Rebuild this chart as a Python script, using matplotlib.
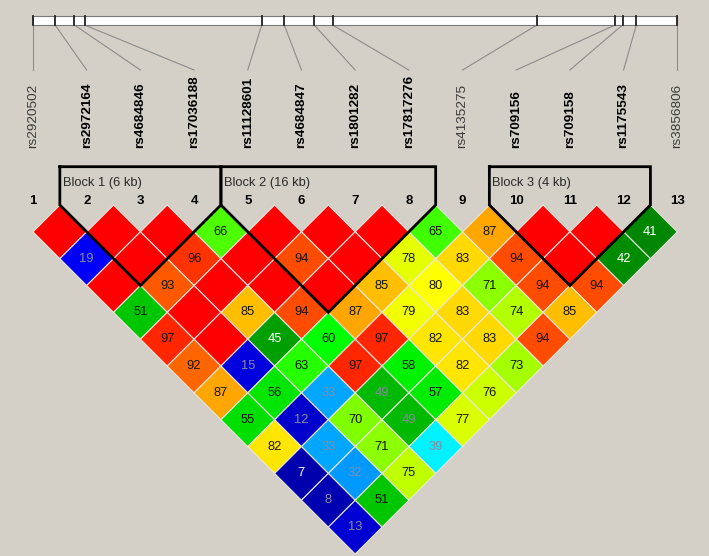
import matplotlib
matplotlib.use('Agg')
import matplotlib.pyplot as plt
from matplotlib.patches import Polygon, Rectangle
import numpy as np

# data
snps = ['rs2920502', 'rs2972164', 'rs4684846', 'rs17036188', 'rs11128601',
        'rs4684847', 'rs1801282', 'rs17817276', 'rs4135275', 'rs709156',
        'rs709158', 'rs1175543', 'rs3856806']
positions_kb = [0, 4.8, 9.0, 11.2, 49.7, 54.6, 61.1, 65.1, 109.5, 126.5, 128.1, 131.1, 140.0]

block_starts = [2, 5, 10]
block_ends   = [4, 8, 12]
block_labels = ['Block 1 (6 kb)', 'Block 2 (16 kb)', 'Block 3 (4 kb)']

# D' (x100) by marker distance: row k holds pairs (i, i+k); 100 = no number shown
dprime_rows = [
    [100, 100, 100, 66, 100, 100, 100, 65, 87, 100, 100, 41],
    [19, 100, 96, 100, 94, 100, 78, 83, 94, 100, 42],
    [100, 93, 100, 100, 100, 85, 80, 71, 94, 94],
    [51, 100, 85, 94, 87, 79, 83, 74, 85],
    [97, 100, 45, 60, 97, 82, 83, 94],
    [92, 15, 63, 97, 58, 82, 73],
    [87, 56, 33, 49, 57, 76],
    [55, 12, 70, 49, 77],
    [82, 33, 71, 39],
    [7, 32, 75],
    [8, 51],
    [13],
]

# colour scale (value -> rgb), piecewise linear like the source
levels = [0, 20, 39.99, 40, 60, 80, 100]
reds   = [0, 0, 0, 0, 0, 1, 1]
greens = [0, 0, 1, 0.5, 1, 1, 0]
blues  = [0.5, 1, 1, 0, 0, 0, 0]

def ld_colour(v):
    return (np.interp(v, levels, reds), np.interp(v, levels, greens), np.interp(v, levels, blues))

def text_colour(v):
    if v <= 7 or 40 < v < 46:
        return 'white'
    if v < 50:
        return '#8a8aa0'
    return '#151515'

BG = '#D4D0C8'
UNIT = 53.69     # pixels per marker
X0, Y0 = 33, 205  # pixel of marker 1 / top of triangle
W, H = 709, 556

def py(p):
    return (p - Y0) / UNIT

plt.rcParams['font.family'] = ['Liberation Sans', 'DejaVu Sans']

fig = plt.figure(figsize=(W / 100, H / 100), dpi=100, facecolor=BG)
ax = fig.add_axes([0, 0, 1, 1])
ax.set_facecolor(BG)
ax.set_xlim(1 - X0 / UNIT, 1 + (W - X0) / UNIT)
ax.set_ylim(py(H), py(0))
ax.axis('off')

n = len(snps)
idx = np.arange(1, n + 1)
in_block = set()
for a, b in zip(block_starts, block_ends):
    in_block.update(range(a, b + 1))

# physical map bar
pos = np.array(positions_kb)
bar_x = 1 + (n - 1) * (pos - pos[0]) / (pos[-1] - pos[0])
ax.add_patch(Rectangle((1, py(16)), n - 1, py(25) - py(16), facecolor='white',
                       edgecolor='#7a7a7a', lw=0.8, zorder=2))
for bx, i in zip(bar_x, idx):
    ax.plot([bx, bx], [py(16), py(25)], color='#222222', lw=1.3, zorder=3)
    ax.plot([bx, i], [py(25), py(70)], color='#8c8c8c', lw=0.8, zorder=1)

# marker names
for i, name in zip(idx, snps):
    bold = i in in_block
    ax.text(i, py(148), name, rotation=90, ha='center', va='bottom', fontsize=9.7,
            fontweight='bold' if bold else 'normal',
            color='#000000' if bold else '#3a3a3a')
    ax.text(i, py(201), str(i), ha='center', va='center', fontsize=9.5,
            fontweight='bold', color='#000000')

# LD diamonds
for k, row in enumerate(dprime_rows, start=1):
    for m, v in enumerate(row):
        i = m + 1
        cx, cy = i + k / 2, k / 2
        ax.add_patch(Polygon([(cx, cy - 0.5), (cx + 0.5, cy), (cx, cy + 0.5), (cx - 0.5, cy)],
                             closed=True, facecolor=ld_colour(v), edgecolor='#EAE6DC',
                             lw=0.8, zorder=2))
        if v < 100:
            ax.text(cx, cy, str(v), ha='center', va='center', fontsize=9.3,
                    color=text_colour(v), zorder=4)

# haplotype blocks
top = py(166.7)
for a, b, lab in zip(block_starts, block_ends, block_labels):
    xs = [a - 0.5, a - 0.5, (a + b) / 2, b + 0.5, b + 0.5, a - 0.5]
    ys = [top, 0, (b - a + 1) / 2, 0, top, top]
    ax.plot(xs, ys, color='black', lw=2.0, zorder=5, solid_joinstyle='miter')
    ax.text(a - 0.5 + 3 / UNIT, py(182.7), lab, ha='left', va='center',
            fontsize=9.3, color='#2a2a2a')

fig.savefig('out.png', dpi=100, facecolor=BG)
